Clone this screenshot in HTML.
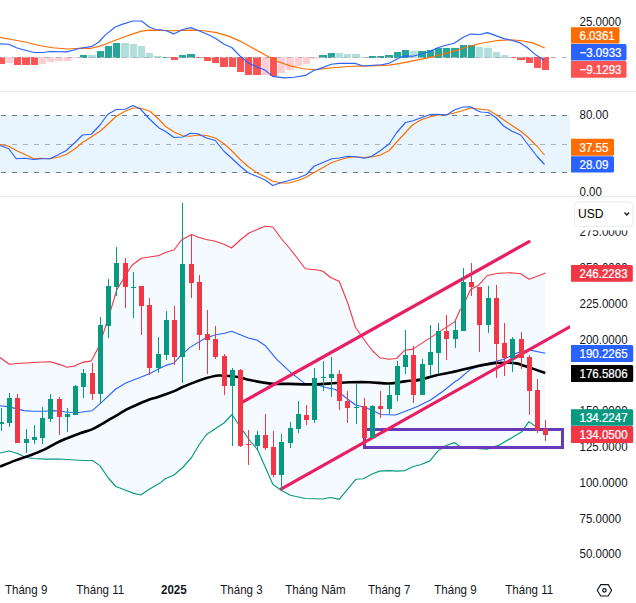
<!DOCTYPE html>
<html><head><meta charset="utf-8"><style>
html,body{margin:0;padding:0;background:#fff;width:636px;height:603px;overflow:hidden}
</style></head><body>
<svg width="636" height="603" viewBox="0 0 636 603" style="display:block"><rect x="0" y="0" width="636" height="603" fill="#ffffff"/><rect x="-2" y="57" width="7" height="7" fill="#FF5252"/><rect x="6" y="57" width="7" height="6" fill="#FFCDD2"/><rect x="14" y="57" width="7" height="8" fill="#FF5252"/><rect x="22" y="57" width="8" height="8" fill="#FF5252"/><rect x="31" y="57" width="7" height="8" fill="#FF5252"/><rect x="39" y="57" width="7" height="7" fill="#FFCDD2"/><rect x="47" y="57" width="7" height="5" fill="#FFCDD2"/><rect x="55" y="57" width="8" height="4" fill="#FFCDD2"/><rect x="64" y="57" width="7" height="4" fill="#FFCDD2"/><rect x="72" y="57" width="7" height="1" fill="#FFCDD2"/><rect x="80" y="55" width="7" height="3" fill="#26A69A"/><rect x="88" y="55" width="8" height="3" fill="#B2DFDB"/><rect x="97" y="51" width="7" height="7" fill="#26A69A"/><rect x="105" y="46" width="7" height="12" fill="#26A69A"/><rect x="113" y="43" width="7" height="15" fill="#26A69A"/><rect x="121" y="43" width="8" height="15" fill="#B2DFDB"/><rect x="130" y="44" width="7" height="14" fill="#B2DFDB"/><rect x="138" y="46" width="7" height="12" fill="#B2DFDB"/><rect x="146" y="53" width="7" height="5" fill="#B2DFDB"/><rect x="154" y="56" width="8" height="2" fill="#B2DFDB"/><rect x="163" y="57" width="7" height="1" fill="#26A69A"/><rect x="171" y="57" width="7" height="3" fill="#FF5252"/><rect x="179" y="55" width="7" height="3" fill="#26A69A"/><rect x="187" y="54" width="8" height="4" fill="#26A69A"/><rect x="196" y="57" width="7" height="1" fill="#FF5252"/><rect x="204" y="57" width="7" height="4" fill="#FF5252"/><rect x="212" y="57" width="7" height="6" fill="#FF5252"/><rect x="220" y="57" width="8" height="10" fill="#FF5252"/><rect x="229" y="57" width="7" height="10" fill="#FF5252"/><rect x="237" y="57" width="7" height="15" fill="#FF5252"/><rect x="245" y="57" width="7" height="18" fill="#FF5252"/><rect x="253" y="57" width="8" height="18" fill="#FF5252"/><rect x="262" y="57" width="7" height="18" fill="#FFCDD2"/><rect x="270" y="57" width="7" height="19" fill="#FF5252"/><rect x="278" y="57" width="7" height="16" fill="#FFCDD2"/><rect x="286" y="57" width="8" height="13" fill="#FFCDD2"/><rect x="295" y="57" width="7" height="9" fill="#FFCDD2"/><rect x="303" y="57" width="7" height="7" fill="#FFCDD2"/><rect x="311" y="57" width="7" height="2" fill="#FFCDD2"/><rect x="319" y="55" width="8" height="3" fill="#26A69A"/><rect x="328" y="53" width="7" height="5" fill="#26A69A"/><rect x="336" y="53" width="7" height="5" fill="#B2DFDB"/><rect x="344" y="54" width="7" height="4" fill="#B2DFDB"/><rect x="352" y="54" width="8" height="4" fill="#B2DFDB"/><rect x="361" y="57" width="7" height="1" fill="#B2DFDB"/><rect x="369" y="56" width="7" height="2" fill="#26A69A"/><rect x="377" y="56" width="7" height="2" fill="#26A69A"/><rect x="385" y="55" width="8" height="3" fill="#26A69A"/><rect x="394" y="52" width="7" height="6" fill="#26A69A"/><rect x="402" y="50" width="7" height="8" fill="#26A69A"/><rect x="410" y="51" width="7" height="7" fill="#B2DFDB"/><rect x="418" y="51" width="8" height="7" fill="#26A69A"/><rect x="427" y="50" width="7" height="8" fill="#26A69A"/><rect x="435" y="48" width="7" height="10" fill="#26A69A"/><rect x="443" y="48" width="7" height="10" fill="#26A69A"/><rect x="451" y="48" width="8" height="10" fill="#26A69A"/><rect x="460" y="45" width="7" height="13" fill="#26A69A"/><rect x="468" y="45" width="7" height="13" fill="#26A69A"/><rect x="476" y="47" width="7" height="11" fill="#B2DFDB"/><rect x="484" y="48" width="8" height="10" fill="#B2DFDB"/><rect x="493" y="52" width="7" height="6" fill="#B2DFDB"/><rect x="501" y="55" width="7" height="3" fill="#B2DFDB"/><rect x="509" y="57" width="7" height="1" fill="#FF5252"/><rect x="517" y="57" width="8" height="3" fill="#FF5252"/><rect x="526" y="57" width="7" height="6" fill="#FF5252"/><rect x="534" y="57" width="7" height="11" fill="#FF5252"/><rect x="542" y="57" width="7" height="13" fill="#FF5252"/><line x1="0" y1="57.5" x2="570" y2="57.5" stroke="#B2B5BE" stroke-width="1" stroke-dasharray="5 6" stroke-dashoffset="-1"/><polyline points="0.00,37.40 10.10,39.20 25.20,42.00 40.30,45.80 52.80,47.70 67.90,49.00 80.00,48.30 91.30,48.30 98.90,46.40 105.20,44.20 114.00,40.80 124.00,37.00 132.80,33.90 141.60,31.10 149.20,30.10 160.00,30.50 172.60,30.70 191.40,30.10 204.00,30.70 216.60,32.60 229.20,36.40 240.00,41.10 252.60,48.00 265.20,55.00 277.70,61.50 290.30,65.90 302.90,68.80 315.50,69.70 320.00,69.10 332.60,67.80 351.40,66.30 370.30,65.90 389.20,65.10 400.00,63.40 412.60,60.90 425.20,58.40 437.70,55.50 450.30,52.10 462.90,48.30 480.00,43.50 490.10,41.70 498.90,40.40 511.40,39.90 521.50,40.80 532.80,42.90 544.80,48.00" fill="none" stroke="#FF6D00" stroke-width="1.15" stroke-linejoin="round"/><polyline points="0.00,43.90 8.80,44.20 16.40,47.70 25.20,50.20 34.00,52.50 42.80,52.50 50.30,51.50 66.70,51.90 73.00,50.20 80.00,48.30 92.00,46.40 98.90,42.00 105.20,35.10 115.20,27.00 122.80,24.10 132.80,21.00 141.60,21.00 149.20,27.00 155.50,29.50 160.00,29.80 166.30,30.70 173.80,33.90 182.60,29.50 190.80,27.60 197.70,30.30 207.80,34.50 215.30,38.30 224.20,44.20 231.70,47.50 240.00,56.00 248.80,63.40 256.40,66.60 265.20,70.30 272.70,76.40 284.00,77.90 294.10,77.30 305.40,75.40 314.20,70.30 320.00,68.60 331.30,64.30 338.90,63.40 355.20,63.40 362.80,66.00 372.80,65.30 381.60,64.70 388.60,63.40 400.00,57.50 405.00,55.90 412.60,56.30 422.60,53.70 431.40,50.80 436.50,48.30 444.00,45.80 454.10,43.30 462.90,37.60 470.40,34.10 480.00,34.50 487.50,32.60 495.10,35.40 503.90,38.60 511.40,40.20 520.30,42.90 527.80,48.00 535.30,54.60 544.40,60.50" fill="none" stroke="#2962FF" stroke-width="1.15" stroke-linejoin="round"/><rect x="0" y="91" width="636" height="1" fill="#E8E8E8"/><rect x="0" y="196" width="636" height="1" fill="#E8E8E8"/><rect x="0" y="115" width="570" height="58" fill="#2196F3" fill-opacity="0.1"/><line x1="0" y1="115.5" x2="570" y2="115.5" stroke="#787B86" stroke-width="1.2" stroke-dasharray="5 6" stroke-dashoffset="-1"/><line x1="0" y1="144.5" x2="570" y2="144.5" stroke="#787B86" stroke-opacity="0.55" stroke-width="1.2" stroke-dasharray="5 6" stroke-dashoffset="-1"/><line x1="0" y1="172.5" x2="570" y2="172.5" stroke="#787B86" stroke-width="1.2" stroke-dasharray="5 6" stroke-dashoffset="-1"/><polyline points="0.00,144.50 8.75,146.25 16.25,150.50 25.00,154.50 33.75,158.75 41.25,158.25 50.00,158.75 58.75,157.00 66.25,154.50 75.00,148.75 82.50,142.50 91.25,137.00 100.00,131.25 107.50,124.50 116.25,116.25 125.00,111.25 133.00,108.00 140.00,108.00 150.00,111.25 159.00,119.50 165.25,126.25 174.00,132.00 182.75,135.75 190.25,136.25 197.75,135.00 206.50,135.50 215.25,138.00 224.00,143.75 231.50,150.50 240.25,159.50 247.75,166.25 256.50,172.50 265.25,177.00 272.75,181.25 281.50,183.00 289.00,183.00 297.75,180.50 306.50,177.00 314.00,172.50 323.00,167.50 331.75,162.50 339.25,160.00 348.00,157.50 355.50,156.75 364.25,157.50 371.75,157.00 380.50,155.00 389.25,150.50 396.75,142.00 405.50,132.50 413.00,124.50 421.75,119.50 430.50,116.75 438.00,115.00 446.75,114.50 454.25,113.00 463.00,110.50 470.50,108.00 477.00,108.75 488.25,110.00 495.75,114.50 504.00,120.00 512.00,125.50 520.75,131.25 528.25,137.50 537.00,146.25 544.50,155.00" fill="none" stroke="#FF6D00" stroke-width="1.15" stroke-linejoin="round"/><polyline points="0.00,145.50 8.75,148.75 16.25,158.75 25.00,158.25 33.75,159.50 41.25,158.75 50.00,158.75 58.75,154.50 66.25,150.50 75.00,142.50 82.50,135.00 91.25,134.25 100.00,125.00 107.50,114.50 116.25,109.50 125.00,109.25 133.00,105.50 140.00,108.75 150.00,119.50 159.00,128.00 165.25,131.25 174.00,137.50 182.75,137.00 190.25,133.25 197.75,133.75 206.50,138.00 215.25,140.50 224.00,151.25 231.50,158.00 240.25,166.25 247.75,172.50 256.50,176.25 265.25,180.00 272.75,185.50 281.50,182.50 289.00,180.50 297.75,178.00 306.50,174.50 314.00,166.25 323.00,162.50 331.75,158.75 339.25,158.00 348.00,156.25 355.50,156.75 364.25,158.25 371.75,156.25 380.50,150.50 389.25,143.75 396.75,132.50 405.50,122.50 413.00,120.75 421.75,117.50 430.50,114.50 438.00,114.25 446.75,115.00 454.25,110.00 463.00,107.00 470.50,106.75 477.00,110.50 480.75,112.00 488.25,112.50 495.75,117.50 504.00,126.25 512.00,131.25 520.75,135.00 528.25,145.00 537.00,156.25 544.50,164.50" fill="none" stroke="#2962FF" stroke-width="1.15" stroke-linejoin="round"/><polygon points="0.00,357.50 9.30,364.20 17.50,363.50 25.80,363.00 34.00,362.50 42.30,362.00 50.50,361.80 60.00,364.60 66.70,367.30 74.20,366.10 82.40,362.40 91.30,360.90 98.00,348.20 103.30,333.30 110.70,310.10 116.70,290.00 123.70,278.30 131.80,265.50 141.10,258.30 149.50,257.00 159.00,255.50 166.50,252.00 174.00,250.00 181.50,240.00 191.50,234.50 199.00,237.50 206.50,239.50 215.25,241.25 224.00,244.25 231.50,248.00 240.25,240.00 249.00,233.00 257.75,229.25 265.25,226.25 272.75,227.00 281.50,238.75 289.00,247.50 297.75,258.75 305.25,268.75 318.00,270.00 323.00,271.25 330.50,277.50 339.25,281.25 348.00,303.75 355.50,327.50 361.75,336.25 368.00,345.00 373.00,351.25 380.00,357.80 389.00,359.30 396.40,358.50 404.60,350.30 412.80,349.10 429.30,338.40 454.60,321.90 460.00,310.00 463.00,306.25 470.50,289.50 478.60,285.20 487.30,275.50 498.00,273.30 511.00,272.70 520.70,273.80 529.10,279.20 537.30,276.20 545.50,273.00 545.50,431.80 536.10,426.70 528.90,421.60 521.80,431.80 511.50,437.90 499.30,445.10 487.00,449.20 461.50,447.50 454.20,442.60 445.70,445.70 438.10,450.90 429.60,461.10 421.10,464.50 412.60,466.80 405.10,470.60 396.60,471.10 389.00,470.60 379.60,471.10 372.10,474.00 363.60,478.70 356.00,479.20 339.20,499.40 330.75,497.50 322.30,499.00 305.30,498.50 290.20,495.30 280.75,490.00 272.80,484.30 266.60,470.20 257.75,450.00 250.25,441.25 241.50,428.75 232.00,414.50 224.00,423.00 215.25,428.75 206.50,434.50 199.00,445.00 191.50,457.50 182.75,467.50 174.00,475.00 165.25,478.75 160.00,483.10 149.70,489.10 140.70,495.00 133.70,493.40 123.80,489.50 115.80,486.50 107.90,477.50 99.90,465.60 92.50,460.50 83.50,460.50 75.30,460.00 67.00,459.50 58.80,459.00 44.80,459.10 34.00,458.50 25.80,457.50 17.50,453.50 9.30,451.00 0.00,453.00" fill="#2196F3" fill-opacity="0.05"/><polyline points="0.00,357.50 9.30,364.20 17.50,363.50 25.80,363.00 34.00,362.50 42.30,362.00 50.50,361.80 60.00,364.60 66.70,367.30 74.20,366.10 82.40,362.40 91.30,360.90 98.00,348.20 103.30,333.30 110.70,310.10 116.70,290.00 123.70,278.30 131.80,265.50 141.10,258.30 149.50,257.00 159.00,255.50 166.50,252.00 174.00,250.00 181.50,240.00 191.50,234.50 199.00,237.50 206.50,239.50 215.25,241.25 224.00,244.25 231.50,248.00 240.25,240.00 249.00,233.00 257.75,229.25 265.25,226.25 272.75,227.00 281.50,238.75 289.00,247.50 297.75,258.75 305.25,268.75 318.00,270.00 323.00,271.25 330.50,277.50 339.25,281.25 348.00,303.75 355.50,327.50 361.75,336.25 368.00,345.00 373.00,351.25 380.00,357.80 389.00,359.30 396.40,358.50 404.60,350.30 412.80,349.10 429.30,338.40 454.60,321.90 460.00,310.00 463.00,306.25 470.50,289.50 478.60,285.20 487.30,275.50 498.00,273.30 511.00,272.70 520.70,273.80 529.10,279.20 537.30,276.20 545.50,273.00" fill="none" stroke="#F23645" stroke-width="1.1" stroke-linejoin="round"/><polyline points="0.00,453.00 9.30,451.00 17.50,453.50 25.80,457.50 34.00,458.50 44.80,459.10 58.80,459.00 67.00,459.50 75.30,460.00 83.50,460.50 92.50,460.50 99.90,465.60 107.90,477.50 115.80,486.50 123.80,489.50 133.70,493.40 140.70,495.00 149.70,489.10 160.00,483.10 165.25,478.75 174.00,475.00 182.75,467.50 191.50,457.50 199.00,445.00 206.50,434.50 215.25,428.75 224.00,423.00 232.00,414.50 241.50,428.75 250.25,441.25 257.75,450.00 266.60,470.20 272.80,484.30 280.75,490.00 290.20,495.30 305.30,498.50 322.30,499.00 330.75,497.50 339.20,499.40 356.00,479.20 363.60,478.70 372.10,474.00 379.60,471.10 389.00,470.60 396.60,471.10 405.10,470.60 412.60,466.80 421.10,464.50 429.60,461.10 438.10,450.90 445.70,445.70 454.20,442.60 461.50,447.50 487.00,449.20 499.30,445.10 511.50,437.90 521.80,431.80 528.90,421.60 536.10,426.70 545.50,431.80" fill="none" stroke="#089981" stroke-width="1.15" stroke-linejoin="round"/><polyline points="0.00,405.70 9.00,406.90 15.00,408.40 23.90,410.60 32.80,411.30 44.80,411.30 53.70,410.60 60.00,411.30 75.00,413.00 91.90,410.80 99.90,403.90 115.80,389.00 125.80,383.00 140.00,377.50 150.00,373.40 159.40,368.60 165.70,365.40 174.00,363.00 179.80,356.30 190.00,347.40 205.70,338.00 215.90,334.80 224.60,333.20 231.70,331.20 248.20,338.00 256.80,340.00 265.50,345.80 276.50,359.20 290.90,372.60 305.00,383.60 316.00,384.40 325.50,387.50 335.50,389.50 345.50,397.50 355.50,405.00 365.50,407.50 374.25,411.25 380.50,414.50 395.50,415.00 405.50,411.25 418.00,406.25 430.50,400.00 443.00,391.25 455.50,381.25 457.90,380.00 470.40,369.30 489.30,363.00 501.90,359.90 517.60,352.80 530.20,350.10 545.30,353.30" fill="none" stroke="#2962FF" stroke-width="1.1" stroke-linejoin="round"/><path d="M0.00,466.60 C2.48,465.60 9.92,462.47 14.90,460.60 C19.88,458.73 24.92,457.27 29.90,455.40 C34.88,453.53 39.78,451.77 44.80,449.40 C49.82,447.03 54.13,443.88 60.00,441.20 C65.87,438.52 74.68,435.27 80.00,433.30 C85.32,431.33 87.92,431.15 91.90,429.40 C95.88,427.65 99.92,425.07 103.90,422.80 C107.88,420.53 111.82,418.12 115.80,415.80 C119.78,413.48 123.82,410.95 127.80,408.90 C131.78,406.85 136.00,405.10 139.70,403.50 C143.40,401.90 146.97,400.38 150.00,399.30 C153.03,398.22 153.97,398.32 157.90,397.00 C161.83,395.68 169.68,392.98 173.60,391.40 C177.52,389.82 178.52,388.80 181.40,387.50 C184.28,386.20 186.70,385.17 190.90,383.60 C195.10,382.03 202.42,379.42 206.60,378.10 C210.78,376.78 213.38,376.10 216.00,375.70 C218.62,375.30 218.63,375.48 222.30,375.70 C225.97,375.92 233.38,376.27 238.00,377.00 C242.62,377.73 244.60,379.00 250.00,380.10 C255.40,381.20 263.85,382.97 270.40,383.60 C276.95,384.23 282.75,383.77 289.30,383.90 C295.85,384.03 303.15,384.45 309.70,384.40 C316.25,384.35 321.88,383.95 328.60,383.60 C335.32,383.25 343.28,382.53 350.00,382.30 C356.72,382.07 362.35,382.00 368.90,382.20 C375.45,382.40 383.28,383.63 389.30,383.50 C395.32,383.37 399.75,382.05 405.00,381.40 C410.25,380.75 415.55,380.63 420.80,379.60 C426.05,378.57 431.63,376.37 436.50,375.20 C441.37,374.03 443.82,373.97 450.00,372.60 C456.18,371.23 466.77,368.50 473.60,367.00 C480.43,365.50 485.37,364.30 491.00,363.60 C496.63,362.90 503.15,362.83 507.40,362.80 C511.65,362.77 513.47,362.82 516.50,363.40 C519.53,363.98 520.80,364.72 525.60,366.30 C530.40,367.88 542.02,371.80 545.30,372.90" fill="none" stroke="#000000" stroke-width="2.6" stroke-linejoin="round"/><rect x="364.5" y="429.5" width="198" height="18" fill="none" stroke="#673AB7" stroke-width="3"/><clipPath id="cm"><rect x="0" y="197" width="570" height="378"/></clipPath><g clip-path="url(#cm)"><line x1="241.5" y1="402.7" x2="529.1" y2="241.6" stroke="#E91E63" stroke-width="3.2" stroke-linecap="round"/><line x1="281.4" y1="488.9" x2="575" y2="323.95" stroke="#E91E63" stroke-width="3.2" stroke-linecap="round"/></g><rect x="1" y="408" width="1" height="23" fill="#089981"/><rect x="-1" y="422" width="5" height="2" fill="#089981"/><rect x="9" y="393" width="1" height="34" fill="#089981"/><rect x="7" y="398" width="5" height="25" fill="#089981"/><rect x="17" y="394" width="1" height="49" fill="#F23645"/><rect x="15" y="398" width="5" height="45" fill="#F23645"/><rect x="26" y="429" width="1" height="24" fill="#089981"/><rect x="24" y="439" width="5" height="4" fill="#089981"/><rect x="34" y="425" width="1" height="19" fill="#089981"/><rect x="32" y="437" width="5" height="3" fill="#089981"/><rect x="42" y="407" width="1" height="37" fill="#089981"/><rect x="40" y="418" width="5" height="20" fill="#089981"/><rect x="50" y="394" width="1" height="28" fill="#089981"/><rect x="48" y="399" width="5" height="20" fill="#089981"/><rect x="59" y="397" width="1" height="38" fill="#F23645"/><rect x="57" y="399" width="5" height="18" fill="#F23645"/><rect x="67" y="408" width="1" height="24" fill="#089981"/><rect x="65" y="414" width="5" height="3" fill="#089981"/><rect x="75" y="385" width="1" height="30" fill="#089981"/><rect x="73" y="386" width="5" height="29" fill="#089981"/><rect x="83" y="369" width="1" height="29" fill="#089981"/><rect x="81" y="373" width="5" height="14" fill="#089981"/><rect x="92" y="363" width="1" height="37" fill="#F23645"/><rect x="90" y="373" width="5" height="21" fill="#F23645"/><rect x="100" y="317" width="1" height="87" fill="#089981"/><rect x="98" y="325" width="5" height="69" fill="#089981"/><rect x="108" y="279" width="1" height="59" fill="#089981"/><rect x="106" y="286" width="5" height="40" fill="#089981"/><rect x="116" y="247" width="1" height="49" fill="#089981"/><rect x="114" y="263" width="5" height="24" fill="#089981"/><rect x="125" y="258" width="1" height="50" fill="#F23645"/><rect x="123" y="263" width="5" height="24" fill="#F23645"/><rect x="133" y="272" width="1" height="46" fill="#089981"/><rect x="131" y="287" width="5" height="1" fill="#089981"/><rect x="141" y="286" width="1" height="49" fill="#F23645"/><rect x="139" y="286" width="5" height="20" fill="#F23645"/><rect x="149" y="298" width="1" height="77" fill="#F23645"/><rect x="147" y="305" width="5" height="63" fill="#F23645"/><rect x="158" y="337" width="1" height="36" fill="#089981"/><rect x="156" y="354" width="5" height="14" fill="#089981"/><rect x="166" y="311" width="1" height="49" fill="#089981"/><rect x="164" y="320" width="5" height="35" fill="#089981"/><rect x="174" y="306" width="1" height="59" fill="#F23645"/><rect x="172" y="320" width="5" height="37" fill="#F23645"/><rect x="182" y="203" width="1" height="180" fill="#089981"/><rect x="180" y="264" width="5" height="93" fill="#089981"/><rect x="191" y="234" width="1" height="64" fill="#F23645"/><rect x="189" y="264" width="5" height="19" fill="#F23645"/><rect x="199" y="275" width="1" height="75" fill="#F23645"/><rect x="197" y="282" width="5" height="53" fill="#F23645"/><rect x="207" y="310" width="1" height="64" fill="#F23645"/><rect x="205" y="334" width="5" height="6" fill="#F23645"/><rect x="215" y="326" width="1" height="33" fill="#F23645"/><rect x="213" y="339" width="5" height="18" fill="#F23645"/><rect x="224" y="354" width="1" height="41" fill="#F23645"/><rect x="222" y="356" width="5" height="30" fill="#F23645"/><rect x="232" y="368" width="1" height="78" fill="#089981"/><rect x="230" y="370" width="5" height="16" fill="#089981"/><rect x="240" y="369" width="1" height="78" fill="#F23645"/><rect x="238" y="370" width="5" height="76" fill="#F23645"/><rect x="248" y="430" width="1" height="35" fill="#F23645"/><rect x="246" y="444" width="5" height="1" fill="#F23645"/><rect x="257" y="431" width="1" height="20" fill="#089981"/><rect x="255" y="435" width="5" height="11" fill="#089981"/><rect x="265" y="414" width="1" height="36" fill="#F23645"/><rect x="263" y="435" width="5" height="13" fill="#F23645"/><rect x="273" y="431" width="1" height="46" fill="#F23645"/><rect x="271" y="447" width="5" height="28" fill="#F23645"/><rect x="281" y="434" width="1" height="56" fill="#089981"/><rect x="279" y="442" width="5" height="33" fill="#089981"/><rect x="290" y="422" width="1" height="26" fill="#089981"/><rect x="288" y="428" width="5" height="15" fill="#089981"/><rect x="298" y="401" width="1" height="32" fill="#089981"/><rect x="296" y="414" width="5" height="15" fill="#089981"/><rect x="306" y="405" width="1" height="20" fill="#F23645"/><rect x="304" y="415" width="5" height="5" fill="#F23645"/><rect x="314" y="368" width="1" height="55" fill="#089981"/><rect x="312" y="378" width="5" height="42" fill="#089981"/><rect x="323" y="361" width="1" height="30" fill="#089981"/><rect x="321" y="377" width="5" height="1" fill="#089981"/><rect x="331" y="357" width="1" height="40" fill="#089981"/><rect x="329" y="374" width="5" height="4" fill="#089981"/><rect x="339" y="370" width="1" height="40" fill="#F23645"/><rect x="337" y="374" width="5" height="27" fill="#F23645"/><rect x="347" y="391" width="1" height="32" fill="#F23645"/><rect x="345" y="401" width="5" height="7" fill="#F23645"/><rect x="356" y="384" width="1" height="40" fill="#089981"/><rect x="354" y="407" width="5" height="1" fill="#089981"/><rect x="364" y="398" width="1" height="47" fill="#F23645"/><rect x="362" y="406" width="5" height="32" fill="#F23645"/><rect x="372" y="405" width="1" height="33" fill="#089981"/><rect x="370" y="406" width="5" height="32" fill="#089981"/><rect x="380" y="391" width="1" height="27" fill="#F23645"/><rect x="378" y="406" width="5" height="3" fill="#F23645"/><rect x="389" y="385" width="1" height="29" fill="#089981"/><rect x="387" y="395" width="5" height="14" fill="#089981"/><rect x="397" y="361" width="1" height="40" fill="#089981"/><rect x="395" y="366" width="5" height="29" fill="#089981"/><rect x="405" y="330" width="1" height="44" fill="#089981"/><rect x="403" y="355" width="5" height="12" fill="#089981"/><rect x="413" y="346" width="1" height="57" fill="#F23645"/><rect x="411" y="355" width="5" height="40" fill="#F23645"/><rect x="422" y="359" width="1" height="36" fill="#089981"/><rect x="420" y="364" width="5" height="31" fill="#089981"/><rect x="430" y="325" width="1" height="51" fill="#089981"/><rect x="428" y="352" width="5" height="13" fill="#089981"/><rect x="438" y="323" width="1" height="51" fill="#089981"/><rect x="436" y="331" width="5" height="22" fill="#089981"/><rect x="446" y="315" width="1" height="45" fill="#F23645"/><rect x="444" y="331" width="5" height="8" fill="#F23645"/><rect x="455" y="321" width="1" height="27" fill="#089981"/><rect x="453" y="330" width="5" height="9" fill="#089981"/><rect x="463" y="268" width="1" height="63" fill="#089981"/><rect x="461" y="282" width="5" height="49" fill="#089981"/><rect x="471" y="263" width="1" height="33" fill="#F23645"/><rect x="469" y="282" width="5" height="5" fill="#F23645"/><rect x="479" y="287" width="1" height="65" fill="#F23645"/><rect x="477" y="287" width="5" height="38" fill="#F23645"/><rect x="488" y="286" width="1" height="47" fill="#089981"/><rect x="486" y="298" width="5" height="27" fill="#089981"/><rect x="496" y="285" width="1" height="93" fill="#F23645"/><rect x="494" y="298" width="5" height="46" fill="#F23645"/><rect x="504" y="323" width="1" height="53" fill="#F23645"/><rect x="502" y="343" width="5" height="15" fill="#F23645"/><rect x="512" y="337" width="1" height="35" fill="#089981"/><rect x="510" y="339" width="5" height="19" fill="#089981"/><rect x="521" y="332" width="1" height="37" fill="#F23645"/><rect x="519" y="339" width="5" height="19" fill="#F23645"/><rect x="529" y="355" width="1" height="60" fill="#F23645"/><rect x="527" y="357" width="5" height="34" fill="#F23645"/><rect x="537" y="379" width="1" height="54" fill="#F23645"/><rect x="535" y="390" width="5" height="40" fill="#F23645"/><rect x="545" y="420" width="1" height="21" fill="#F23645"/><rect x="543" y="429" width="5" height="6" fill="#F23645"/><g transform="translate(579.5,25.7) scale(0.93,1)"><text x="0" y="0" font-family='"Liberation Sans", sans-serif' font-size="12.4" fill="#131722" text-anchor="start" font-weight="normal" >25.0000</text></g><path d="M571,27.2 H618.0 Q619.5,27.2 619.5,28.7 V42.1 Q619.5,43.6 618.0,43.6 H571 Z" fill="#FF6D00"/><g transform="translate(579.5,39.8) scale(0.93,1)"><text x="0" y="0" font-family='"Liberation Sans", sans-serif' font-size="12.4" fill="#ffffff" text-anchor="start" font-weight="normal" stroke="#ffffff" stroke-width="0.25" >6.0361</text></g><path d="M571,43.9 H625.0 Q626.5,43.9 626.5,45.4 V59.1 Q626.5,60.6 625.0,60.6 H571 Z" fill="#2962FF"/><g transform="translate(579.5,56.8) scale(0.93,1)"><text x="0" y="0" font-family='"Liberation Sans", sans-serif' font-size="12.4" fill="#ffffff" text-anchor="start" font-weight="normal" stroke="#ffffff" stroke-width="0.25" >−3.0933</text></g><path d="M571,61.0 H625.0 Q626.5,61.0 626.5,62.5 V76.3 Q626.5,77.8 625.0,77.8 H571 Z" fill="#FF5252"/><g transform="translate(579.5,73.8) scale(0.93,1)"><text x="0" y="0" font-family='"Liberation Sans", sans-serif' font-size="12.4" fill="#ffffff" text-anchor="start" font-weight="normal" stroke="#ffffff" stroke-width="0.25" >−9.1293</text></g><g transform="translate(579.5,119.3) scale(0.93,1)"><text x="0" y="0" font-family='"Liberation Sans", sans-serif' font-size="12.4" fill="#131722" text-anchor="start" font-weight="normal" >80.00</text></g><path d="M571,138.8 H612.5 Q614,138.8 614,140.3 V154.3 Q614,155.8 612.5,155.8 H571 Z" fill="#FF6D00"/><g transform="translate(579.5,151.7) scale(0.93,1)"><text x="0" y="0" font-family='"Liberation Sans", sans-serif' font-size="12.4" fill="#ffffff" text-anchor="start" font-weight="normal" stroke="#ffffff" stroke-width="0.25" >37.55</text></g><path d="M571,156.3 H612.5 Q614,156.3 614,157.8 V171.0 Q614,172.5 612.5,172.5 H571 Z" fill="#2962FF"/><g transform="translate(579.5,168.7) scale(0.93,1)"><text x="0" y="0" font-family='"Liberation Sans", sans-serif' font-size="12.4" fill="#ffffff" text-anchor="start" font-weight="normal" stroke="#ffffff" stroke-width="0.25" >28.09</text></g><clipPath id="cs"><rect x="0" y="92" width="636" height="104"/></clipPath><g clip-path="url(#cs)"><g transform="translate(579.5,196.3) scale(0.93,1)"><text x="0" y="0" font-family='"Liberation Sans", sans-serif' font-size="12.4" fill="#131722" text-anchor="start" font-weight="normal" >0.00</text></g></g><g transform="translate(579.5,235.8) scale(0.93,1)"><text x="0" y="0" font-family='"Liberation Sans", sans-serif' font-size="12.4" fill="#131722" text-anchor="start" font-weight="normal" >275.0000</text></g><g transform="translate(579.5,271.8) scale(0.93,1)"><text x="0" y="0" font-family='"Liberation Sans", sans-serif' font-size="12.4" fill="#131722" text-anchor="start" font-weight="normal" >250.0000</text></g><g transform="translate(579.5,308.0) scale(0.93,1)"><text x="0" y="0" font-family='"Liberation Sans", sans-serif' font-size="12.4" fill="#131722" text-anchor="start" font-weight="normal" >225.0000</text></g><g transform="translate(579.5,344.0) scale(0.93,1)"><text x="0" y="0" font-family='"Liberation Sans", sans-serif' font-size="12.4" fill="#131722" text-anchor="start" font-weight="normal" >200.0000</text></g><g transform="translate(579.5,415.0) scale(0.93,1)"><text x="0" y="0" font-family='"Liberation Sans", sans-serif' font-size="12.4" fill="#131722" text-anchor="start" font-weight="normal" >150.0000</text></g><g transform="translate(579.5,451.0) scale(0.93,1)"><text x="0" y="0" font-family='"Liberation Sans", sans-serif' font-size="12.4" fill="#131722" text-anchor="start" font-weight="normal" >125.0000</text></g><g transform="translate(579.5,487.0) scale(0.93,1)"><text x="0" y="0" font-family='"Liberation Sans", sans-serif' font-size="12.4" fill="#131722" text-anchor="start" font-weight="normal" >100.0000</text></g><g transform="translate(579.5,523.0) scale(0.93,1)"><text x="0" y="0" font-family='"Liberation Sans", sans-serif' font-size="12.4" fill="#131722" text-anchor="start" font-weight="normal" >75.0000</text></g><g transform="translate(579.5,558.0) scale(0.93,1)"><text x="0" y="0" font-family='"Liberation Sans", sans-serif' font-size="12.4" fill="#131722" text-anchor="start" font-weight="normal" >50.0000</text></g><path d="M571,265.0 H631.3 Q632.8,265.0 632.8,266.5 V280.3 Q632.8,281.8 631.3,281.8 H571 Z" fill="#F23645"/><g transform="translate(579.5,277.6) scale(0.93,1)"><text x="0" y="0" font-family='"Liberation Sans", sans-serif' font-size="12.4" fill="#ffffff" text-anchor="start" font-weight="normal" stroke="#ffffff" stroke-width="0.25" >246.2283</text></g><path d="M571,345.0 H631.7 Q633.2,345.0 633.2,346.5 V360.5 Q633.2,362.0 631.7,362.0 H571 Z" fill="#2962FF"/><g transform="translate(579.5,358.0) scale(0.93,1)"><text x="0" y="0" font-family='"Liberation Sans", sans-serif' font-size="12.4" fill="#ffffff" text-anchor="start" font-weight="normal" stroke="#ffffff" stroke-width="0.25" >190.2265</text></g><path d="M571,365.0 H631.7 Q633.2,365.0 633.2,366.5 V380.5 Q633.2,382.0 631.7,382.0 H571 Z" fill="#000000"/><g transform="translate(579.5,377.9) scale(0.93,1)"><text x="0" y="0" font-family='"Liberation Sans", sans-serif' font-size="12.4" fill="#ffffff" text-anchor="start" font-weight="normal" stroke="#ffffff" stroke-width="0.25" >176.5806</text></g><path d="M571,409.2 H631.7 Q633.2,409.2 633.2,410.7 V424.3 Q633.2,425.8 631.7,425.8 H571 Z" fill="#089981"/><g transform="translate(579.5,421.6) scale(0.93,1)"><text x="0" y="0" font-family='"Liberation Sans", sans-serif' font-size="12.4" fill="#ffffff" text-anchor="start" font-weight="normal" stroke="#ffffff" stroke-width="0.25" >134.2247</text></g><path d="M571,426.1 H631.7 Q633.2,426.1 633.2,427.6 V441.4 Q633.2,442.9 631.7,442.9 H571 Z" fill="#F23645"/><g transform="translate(579.5,438.6) scale(0.93,1)"><text x="0" y="0" font-family='"Liberation Sans", sans-serif' font-size="12.4" fill="#ffffff" text-anchor="start" font-weight="normal" stroke="#ffffff" stroke-width="0.25" >134.0500</text></g><rect x="571" y="197" width="65" height="33.4" fill="#ffffff"/><rect x="574.5" y="201.8" width="58.5" height="24.6" rx="4" fill="#ffffff" stroke="#EBEBEB" stroke-width="1"/><g transform="translate(578,218) scale(0.93,1)"><text x="0" y="0" font-family='"Liberation Sans", sans-serif' font-size="13" fill="#000000" text-anchor="start" font-weight="normal" >USD</text></g><path d="M624.5,212.5 L626.8,215 L629,212.5" fill="none" stroke="#131722" stroke-width="1.3"/><g transform="translate(5,593.8) scale(0.93,1)"><text x="0" y="0" font-family='"Liberation Sans", sans-serif' font-size="12.4" fill="#131722" text-anchor="start" font-weight="normal" >Tháng 9</text></g><g transform="translate(76.3,593.8) scale(0.93,1)"><text x="0" y="0" font-family='"Liberation Sans", sans-serif' font-size="12.4" fill="#131722" text-anchor="start" font-weight="normal" >Tháng 11</text></g><g transform="translate(161,593.8) scale(0.93,1)"><text x="0" y="0" font-family='"Liberation Sans", sans-serif' font-size="12.4" fill="#131722" text-anchor="start" font-weight="bold" >2025</text></g><g transform="translate(220.3,593.8) scale(0.93,1)"><text x="0" y="0" font-family='"Liberation Sans", sans-serif' font-size="12.4" fill="#131722" text-anchor="start" font-weight="normal" >Tháng 3</text></g><g transform="translate(285.3,593.8) scale(0.93,1)"><text x="0" y="0" font-family='"Liberation Sans", sans-serif' font-size="12.4" fill="#131722" text-anchor="start" font-weight="normal" >Tháng Năm</text></g><g transform="translate(368,593.8) scale(0.93,1)"><text x="0" y="0" font-family='"Liberation Sans", sans-serif' font-size="12.4" fill="#131722" text-anchor="start" font-weight="normal" >Tháng 7</text></g><g transform="translate(434.3,593.8) scale(0.93,1)"><text x="0" y="0" font-family='"Liberation Sans", sans-serif' font-size="12.4" fill="#131722" text-anchor="start" font-weight="normal" >Tháng 9</text></g><g transform="translate(505.3,593.8) scale(0.93,1)"><text x="0" y="0" font-family='"Liberation Sans", sans-serif' font-size="12.4" fill="#131722" text-anchor="start" font-weight="normal" >Tháng 11</text></g><path d="M600.7,584.6 H608.2 L611.6,590.3 L608.2,596.0 H600.7 L597.3,590.3 Z" fill="none" stroke="#131722" stroke-width="1.15" stroke-linejoin="miter"/><circle cx="604.4" cy="590.3" r="1.75" fill="none" stroke="#131722" stroke-width="1.2"/></svg>
</body></html>
